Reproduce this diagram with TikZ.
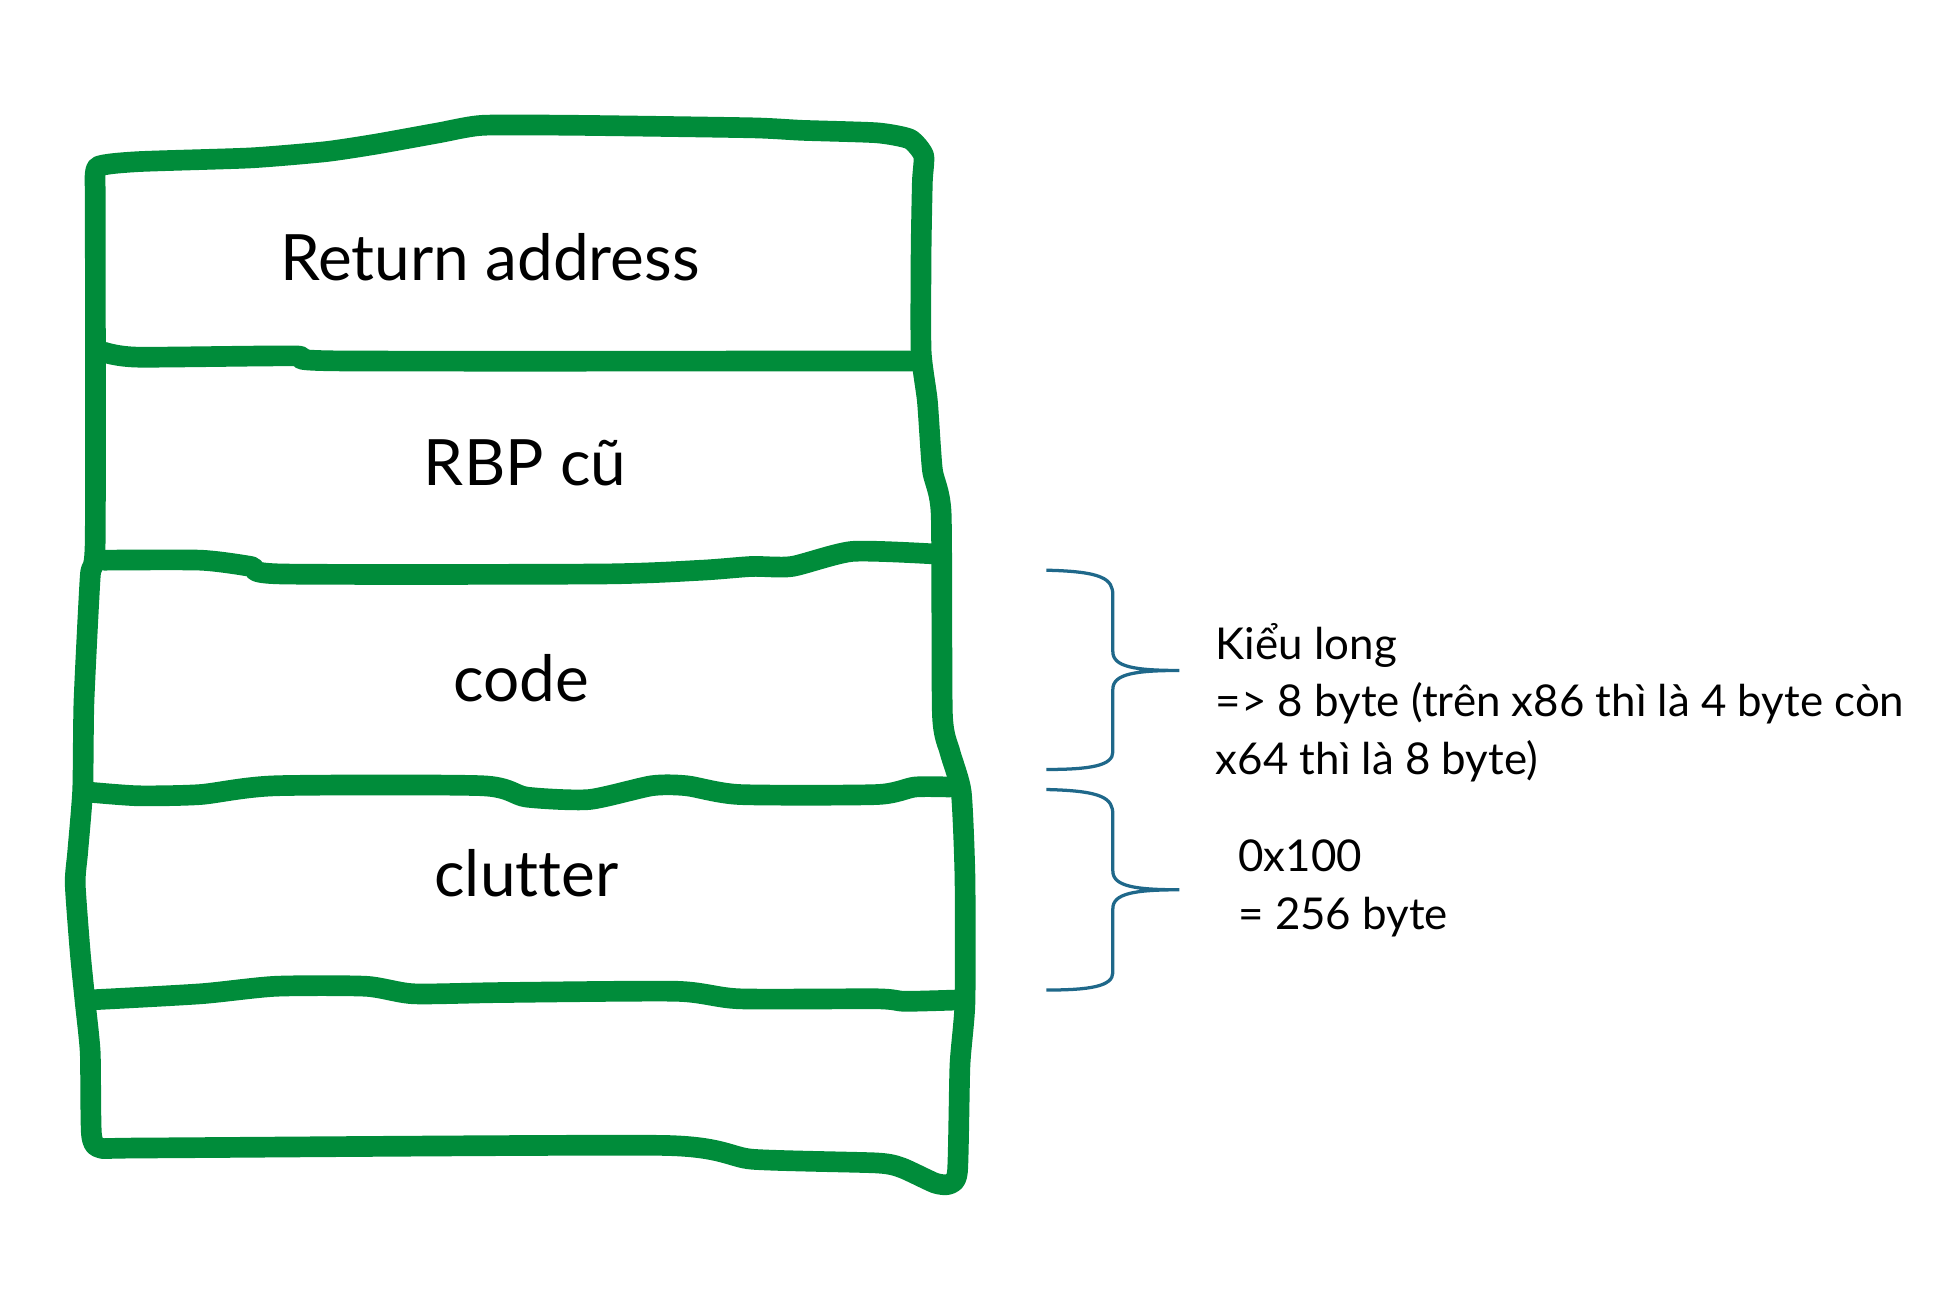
\documentclass[tikz,border=0pt]{standalone}
\usepackage{fontspec}
\setmainfont[Ligatures={NoCommon}]{Lato}
\definecolor{penGreen}{RGB}{0,140,58}
\definecolor{braceBlue}{RGB}{31,104,138}
\begin{document}
\begin{tikzpicture}[x=1pt,y=-1pt,
  pen/.style={draw=penGreen,line width=16.5pt,line join=round,line cap=round},
  brc/.style={draw=braceBlue,line width=2.6pt},
  cell/.style={font=\fontsize{51}{58}\selectfont,text=black,inner sep=0pt},
  note/.style={font=\fontsize{35}{46}\selectfont,text=black,inner sep=0pt,align=left,anchor=north west}]
\useasboundingbox (0,0) rectangle (1560,1035);
% outer hand-drawn outline
\draw[pen] plot[smooth,tension=0.35] coordinates {
  (76,150) (78,133) (110,129) (200,126) (260,121) (300,115) (350,106) (385,100) (460,100)
  (600,102) (640,104) (700,106) (726,111) (737,124) (736,145) (735,200) (735,280)
  (740,320) (744,375) (751,410) (752,570) (758,600) (767,632) (770,700) (770,800)
  (766,850) (764,935) (757,945) (746,944) (720,932) (700,928) (600,925) (530,914)
  (120,916) (80,916) (73,905) (72,840) (68,800) (64,760) (60,705) (62,680) (66,630)
  (67,560) (72,460) (76,430) (76,150)};
% dividers
\draw[pen] plot[smooth,tension=0.4] coordinates {(83,281) (110,285) (235,284) (272,288) (730,288)};
\draw[pen] plot[smooth,tension=0.4] coordinates {(83,447) (160,447) (200,452) (225,458) (480,458) (560,455) (600,452) (632,452) (680,440) (745,442)};
\draw[pen] plot[smooth,tension=0.4] coordinates {(70,632) (110,635) (160,634) (220,627) (385,627) (420,636) (470,638) (520,627) (548,627) (590,634) (700,634) (730,628) (758,628)};
\draw[pen] plot[smooth,tension=0.4] coordinates {(70,798) (160,793) (220,787) (292,787) (330,793) (400,792) (540,791) (590,797) (700,797) (722,799) (762,798)};
% cell labels
\node[cell] (ret) at (391,205) {Return address};
\node[cell] (rbp) at (419,369) {RBP cũ};
\node[cell] (code) at (416,541) {code};
\node[cell] (clut) at (420,697) {clutter};
% braces
\draw[brc] (835,455) .. controls (880,456) and (888,462) .. (888,475) -- (888,520)
  .. controls (888,532) and (905,535) .. (941,535)
  .. controls (905,535) and (888,538) .. (888,550) -- (888,600)
  .. controls (888,611) and (870,614) .. (835,614);
\draw[brc] (835,630) .. controls (880,631) and (888,637) .. (888,650) -- (888,695)
  .. controls (888,707) and (905,710) .. (941,710)
  .. controls (905,710) and (888,713) .. (888,725) -- (888,776)
  .. controls (888,787) and (870,790) .. (835,790);
% notes
\node[note] (n1) at (970,497) {Kiểu long\\=> 8 byte (trên x86 thì là 4 byte còn\\x64 thì là 8 byte)};
\node[note] (n2) at (988,670) {0x100\\= 256 byte};
\end{tikzpicture}
\end{document}
